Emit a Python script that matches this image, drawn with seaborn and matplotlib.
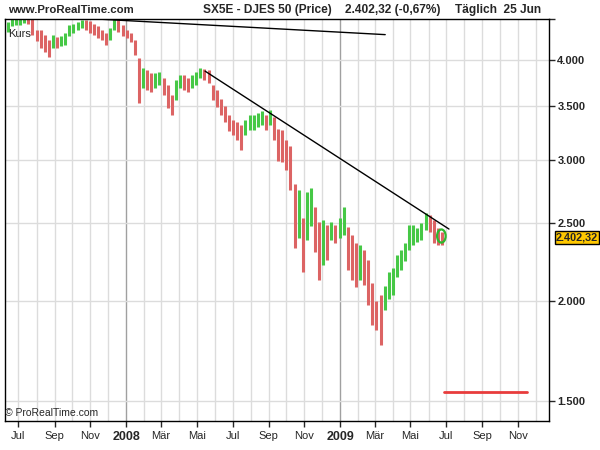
import numpy as np
import pandas as pd
import matplotlib
matplotlib.use("Agg")
import matplotlib.pyplot as plt
import matplotlib.dates as mdates
from matplotlib.path import Path
from matplotlib.transforms import Affine2D
import seaborn as sns

# weekly high / low of the SX5E (weeks from Mon 2007-06-11 to Mon 2009-06-22)
week_hi = [4462, 4520, 4510, 4520, 4540, 4540, 4520, 4360, 4360, 4300,
           4237, 4300, 4270, 4285, 4323, 4424, 4436, 4462, 4486, 4486,
           4475, 4436, 4410, 4360, 4323, 4386, 4500, 4486, 4424, 4360,
           4323, 4237, 4023, 3911, 3886, 3853, 3853, 3864, 3798, 3722,
           3617, 3776, 3831, 3831, 3798, 3831, 3864, 3911, 3898, 3886,
           3722, 3669, 3575, 3503, 3415, 3366, 3350, 3318, 3366, 3415,
           3415, 3440, 3452, 3415, 3464, 3400, 3280, 3270, 3178, 3120,
           2800, 2750, 2540, 2740, 2772, 2620, 2512, 2524, 2488, 2512,
           2488, 2540, 2620, 2471, 2418, 2360, 2349, 2316, 2250, 2109,
           2000, 2034, 2088, 2174, 2200, 2283, 2316, 2360, 2488, 2488,
           2470, 2500, 2575, 2561, 2524, 2470, 2440]
week_lo = [4336, 4410, 4424, 4430, 4450, 4440, 4300, 4220, 4140, 4090,
           4035, 4140, 4140, 4165, 4176, 4285, 4323, 4360, 4386, 4360,
           4323, 4298, 4261, 4237, 4176, 4237, 4360, 4336, 4285, 4261,
           4212, 4058, 3534, 3690, 3669, 3647, 3690, 3722, 3617, 3483,
           3415, 3565, 3690, 3669, 3647, 3690, 3722, 3798, 3776, 3743,
           3565, 3494, 3415, 3350, 3258, 3224, 3178, 3088, 3224, 3270,
           3270, 3302, 3318, 3270, 3318, 3178, 2991, 2980, 2915, 2750,
           2330, 2400, 2174, 2383, 2480, 2300, 2124, 2218, 2250, 2383,
           2360, 2395, 2418, 2186, 2124, 2082, 2124, 2094, 1976, 1866,
           1839, 1761, 1948, 2010, 2034, 2142, 2186, 2243, 2316, 2349,
           2370, 2383, 2453, 2440, 2360, 2349, 2349]
last_close = 2402.32

# drawn trend lines, resistance marker and the red level line
trend1_dates = ["2007-11-12", "2009-03-19"]
trend1_vals = [4502, 4304]
trend2_dates = ["2008-05-15", "2009-07-06"]
trend2_vals = [3875, 2460]
level_dates = ["2009-06-27", "2009-11-16"]
level_vals = [1539, 1539]
mark_date = "2009-06-23"
mark_val = 2411

y_ticks = [1500, 2000, 2500, 3000, 3500, 4000, 4500]
month_names = ["Jan", "Feb", "Mär", "Apr", "Mai", "Jun",
               "Jul", "Aug", "Sep", "Okt", "Nov", "Dez"]

RED = "#dc6464"
GREEN = "#46c846"
GRID = "#dcdcdc"

sns.set_style("white")
plt.rcParams["font.family"] = ["Liberation Sans", "DejaVu Sans"]

weeks = pd.date_range("2007-06-13", periods=len(week_hi), freq="7D")
df = pd.DataFrame({"date": weeks, "hi": week_hi, "lo": week_lo})
df["mid"] = (df["hi"] + df["lo"]) / 2
df["up"] = df["mid"].diff().fillna(0) >= 0

fig = plt.figure(figsize=(6, 4.5), dpi=100)
ax = fig.add_axes([5 / 600, 1 - 421 / 450, 544 / 600, 402 / 450])

ax.set_yscale("log")
ax.set_ylim(1416, 4502)
ax.set_xlim(pd.Timestamp("2007-06-08"), pd.Timestamp("2009-12-24"))

# grid: monthly verticals, darker year separators, horizontals at price ticks
months = pd.date_range("2007-07-01", "2009-12-01", freq="MS")
for m in months:
    col = "#a0a0a0" if m.month == 1 else GRID
    ax.axvline(m, color=col, lw=1.0, zorder=0)
for v in y_ticks[:-1]:
    ax.axhline(v, color=GRID, lw=1.0, zorder=0)

ax.vlines(df["date"], df["lo"], df["hi"],
          colors=[GREEN if u else RED for u in df["up"]], lw=2.2, zorder=2)

sns.lineplot(x=pd.to_datetime(trend1_dates), y=trend1_vals, ax=ax, color="black", lw=1.0, zorder=3)
sns.lineplot(x=pd.to_datetime(trend2_dates), y=trend2_vals, ax=ax, color="black", lw=1.0, zorder=3)
sns.lineplot(x=pd.to_datetime(level_dates), y=level_vals, ax=ax, color="#e83c3c", lw=2.0, zorder=3)

oval = Path(Path.unit_circle().vertices, Path.unit_circle().codes).transformed(Affine2D().scale(0.65, 1.0))
ax.scatter([pd.Timestamp(mark_date)], [mark_val], marker=oval, s=90,
           facecolors="none", edgecolors="#2eb82e", linewidths=1.6, zorder=4)

# axes, ticks and labels
ax.yaxis.tick_right()
ax.set_yticks(y_ticks)
ax.set_yticklabels([f"{v:,}".replace(",", ".") if v < 4500 else "" for v in y_ticks],
                   fontsize=8, fontweight="bold")
ax.yaxis.set_minor_locator(matplotlib.ticker.NullLocator())
ax.tick_params(axis="y", which="major", direction="out", length=4, width=1, pad=2, right=True, left=False)

major = [m for m in months if m.month % 2 == 1]
ax.set_xticks(major)
labels = [str(m.year) if m.month == 1 else month_names[m.month - 1] for m in major]
ax.set_xticklabels(labels, fontsize=8)
for lab, m in zip(ax.get_xticklabels(), major):
    if m.month == 1:
        lab.set_fontweight("bold")
        lab.set_fontsize(9)
ax.tick_params(axis="x", direction="out", length=4, width=1, pad=3, bottom=True)
ax.set_xlabel("")
ax.set_ylabel("")

for s in ax.spines.values():
    s.set_visible(True)
    s.set_color("black")
    s.set_linewidth(1.0)

ax.text(0.006, 0.975, "Kurs", transform=ax.transAxes, fontsize=8, va="top", ha="left")
ax.text(0.0, 0.008, "© ProRealTime.com", transform=ax.transAxes, fontsize=7.5, va="bottom", ha="left")

ax.annotate(f"{last_close:,.2f}".replace(",", "X").replace(".", ",").replace("X", "."),
            xy=(1.0, last_close), xycoords=("axes fraction", "data"),
            xytext=(5, 0), textcoords="offset points", fontsize=7.8, fontweight="bold",
            va="center", ha="left",
            bbox=dict(boxstyle="square,pad=0.12", fc="#ffc800", ec="black", lw=1))

title_kw = dict(fontweight="bold", va="center", ha="left")
fig.text(8 / 600, 1 - 10 / 450, "www.ProRealTime.com", fontsize=8.2, **title_kw)
fig.text(203 / 600, 1 - 10 / 450, "SX5E - DJES 50 (Price)", fontsize=8.6, **title_kw)
fig.text(345 / 600, 1 - 10 / 450, "2.402,32 (-0,67%)", fontsize=8.6, **title_kw)
fig.text(455 / 600, 1 - 10 / 450, "Täglich  25 Jun", fontsize=8.6, **title_kw)

fig.savefig("out.png", dpi=100, facecolor="white")
